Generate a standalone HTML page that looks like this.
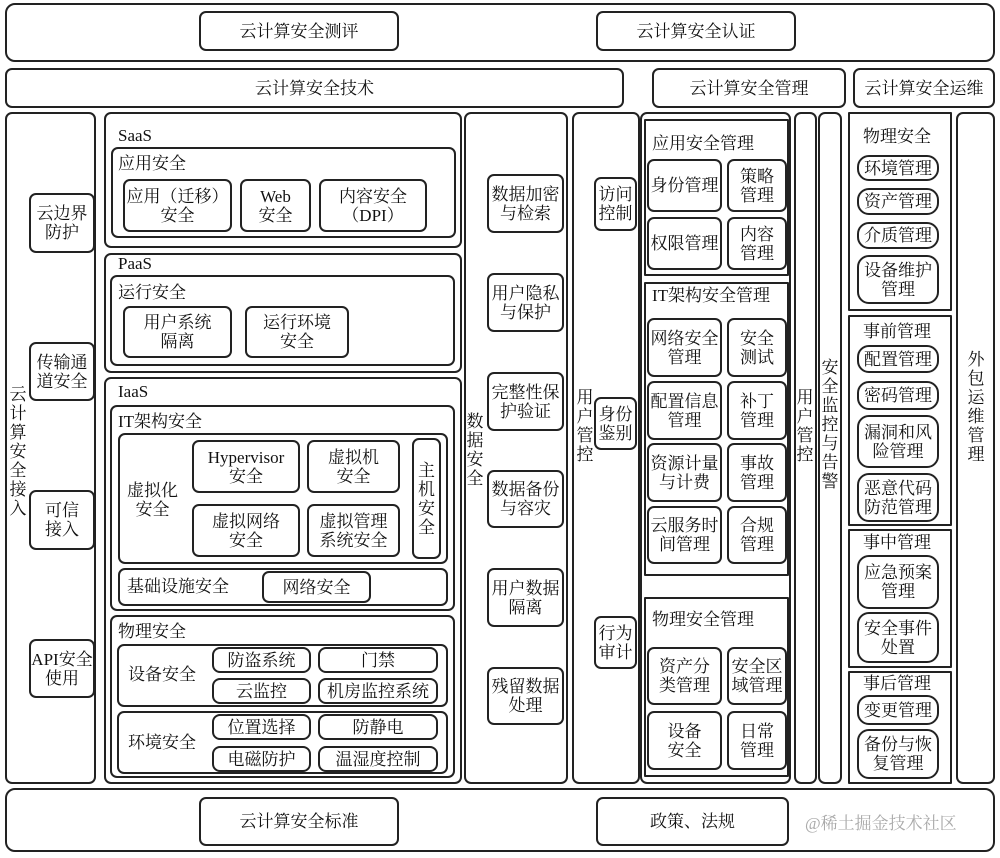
<!DOCTYPE html>
<html><head><meta charset="utf-8"><style>
body{margin:0;background:#fff;}
#c{position:relative;width:1000px;height:858px;overflow:hidden;font-family:"Liberation Serif","Noto Serif CJK SC",serif;color:#111;font-size:17px;line-height:19px;}
.b{position:absolute;box-sizing:border-box;border:2px solid #222;border-radius:7px;display:flex;align-items:center;justify-content:center;text-align:center;}
.s{border-radius:5px;}
.p{border-radius:12px;}
.q{border-radius:1px;}
.t{position:absolute;white-space:nowrap;}
.v{position:absolute;width:20px;text-align:center;line-height:19px;}
</style></head><body><div id="c">
<!-- top -->
<div class="b" style="left:5px;top:3px;width:990px;height:59px;border-radius:10px"></div>
<div class="b" style="left:199px;top:11px;width:200px;height:40px">云计算安全测评</div>
<div class="b" style="left:596px;top:11px;width:200px;height:40px">云计算安全认证</div>
<div class="b" style="left:5px;top:68px;width:619px;height:40px">云计算安全技术</div>
<div class="b" style="left:652px;top:68px;width:194px;height:40px">云计算安全管理</div>
<div class="b" style="left:853px;top:68px;width:142px;height:40px">云计算安全运维</div>

<!-- left access column -->
<div class="b" style="left:5px;top:112px;width:91px;height:672px"></div>
<div class="v" style="left:8px;top:385px">云<br>计<br>算<br>安<br>全<br>接<br>入</div>
<div class="b" style="left:29px;top:193px;width:66px;height:60px">云边界<br>防护</div>
<div class="b" style="left:29px;top:342px;width:66px;height:59px">传输通<br>道安全</div>
<div class="b" style="left:29px;top:490px;width:66px;height:60px">可信<br>接入</div>
<div class="b" style="left:29px;top:639px;width:66px;height:59px;white-space:nowrap">API安全<br>使用</div>

<!-- SaaS -->
<div class="b" style="left:104px;top:112px;width:358px;height:136px"></div>
<div class="t" style="left:118px;top:126px">SaaS</div>
<div class="b" style="left:111px;top:147px;width:345px;height:91px"></div>
<div class="t" style="left:118px;top:154px">应用安全</div>
<div class="b" style="left:123px;top:179px;width:109px;height:53px">应用（迁移）<br>安全</div>
<div class="b" style="left:240px;top:179px;width:71px;height:53px">Web<br>安全</div>
<div class="b" style="left:319px;top:179px;width:108px;height:53px">内容安全<br>（DPI）</div>
<!-- PaaS -->
<div class="b" style="left:104px;top:253px;width:358px;height:120px"></div>
<div class="t" style="left:118px;top:254px">PaaS</div>
<div class="b" style="left:110px;top:275px;width:345px;height:91px"></div>
<div class="t" style="left:118px;top:283px">运行安全</div>
<div class="b" style="left:123px;top:306px;width:109px;height:52px">用户系统<br>隔离</div>
<div class="b" style="left:245px;top:306px;width:104px;height:52px">运行环境<br>安全</div>
<!-- IaaS -->
<div class="b" style="left:104px;top:377px;width:358px;height:407px"></div>
<div class="t" style="left:118px;top:382px">IaaS</div>
<div class="b" style="left:110px;top:405px;width:345px;height:206px"></div>
<div class="t" style="left:118px;top:412px">IT架构安全</div>
<div class="b" style="left:118px;top:433px;width:330px;height:131px"></div>
<div class="t" style="left:127px;top:481px;text-align:center">虚拟化<br>安全</div>
<div class="b" style="left:192px;top:440px;width:108px;height:53px">Hypervisor<br>安全</div>
<div class="b" style="left:307px;top:440px;width:93px;height:53px">虚拟机<br>安全</div>
<div class="b" style="left:192px;top:504px;width:108px;height:53px">虚拟网络<br>安全</div>
<div class="b" style="left:307px;top:504px;width:93px;height:53px">虚拟管理<br>系统安全</div>
<div class="b" style="left:412px;top:438px;width:29px;height:121px">主<br>机<br>安<br>全</div>
<div class="b" style="left:118px;top:568px;width:330px;height:38px"></div>
<div class="t" style="left:127px;top:577px">基础设施安全</div>
<div class="b" style="left:262px;top:571px;width:109px;height:32px">网络安全</div>
<div class="b" style="left:110px;top:615px;width:345px;height:163px"></div>
<div class="t" style="left:118px;top:622px">物理安全</div>
<div class="b" style="left:117px;top:644px;width:331px;height:63px"></div>
<div class="t" style="left:128px;top:665px">设备安全</div>
<div class="b p" style="left:212px;top:647px;width:99px;height:26px;border-radius:8px">防盗系统</div>
<div class="b p" style="left:318px;top:647px;width:120px;height:26px;border-radius:8px">门禁</div>
<div class="b p" style="left:212px;top:678px;width:99px;height:26px;border-radius:8px">云监控</div>
<div class="b p" style="left:318px;top:678px;width:120px;height:26px;border-radius:8px">机房监控系统</div>
<div class="b" style="left:117px;top:711px;width:331px;height:63px"></div>
<div class="t" style="left:128px;top:733px">环境安全</div>
<div class="b p" style="left:212px;top:714px;width:99px;height:26px;border-radius:8px">位置选择</div>
<div class="b p" style="left:318px;top:714px;width:120px;height:26px;border-radius:8px">防静电</div>
<div class="b p" style="left:212px;top:746px;width:99px;height:26px;border-radius:8px">电磁防护</div>
<div class="b p" style="left:318px;top:746px;width:120px;height:26px;border-radius:8px">温湿度控制</div>

<!-- data security -->
<div class="b" style="left:464px;top:112px;width:104px;height:672px"></div>
<div class="v" style="left:465px;top:412px">数<br>据<br>安<br>全</div>
<div class="b" style="left:487px;top:174px;width:77px;height:59px">数据加密<br>与检索</div>
<div class="b" style="left:487px;top:273px;width:77px;height:59px">用户隐私<br>与保护</div>
<div class="b" style="left:487px;top:372px;width:77px;height:59px">完整性保<br>护验证</div>
<div class="b" style="left:487px;top:470px;width:77px;height:58px">数据备份<br>与容灾</div>
<div class="b" style="left:487px;top:568px;width:77px;height:59px">用户数据<br>隔离</div>
<div class="b" style="left:487px;top:667px;width:77px;height:58px">残留数据<br>处理</div>

<!-- user control -->
<div class="b" style="left:572px;top:112px;width:68px;height:672px"></div>
<div class="v" style="left:575px;top:388px">用<br>户<br>管<br>控</div>
<div class="b" style="left:594px;top:177px;width:43px;height:54px">访问<br>控制</div>
<div class="b" style="left:594px;top:397px;width:43px;height:53px">身份<br>鉴别</div>
<div class="b" style="left:594px;top:616px;width:43px;height:53px">行为<br>审计</div>

<!-- management -->
<div class="b" style="left:640px;top:112px;width:151px;height:672px"></div>
<div class="b q" style="left:644px;top:119px;width:145px;height:157px"></div>
<div class="t" style="left:652px;top:134px">应用安全管理</div>
<div class="b" style="left:647px;top:159px;width:75px;height:53px">身份管理</div>
<div class="b" style="left:727px;top:159px;width:60px;height:53px">策略<br>管理</div>
<div class="b" style="left:647px;top:217px;width:75px;height:53px">权限管理</div>
<div class="b" style="left:727px;top:217px;width:60px;height:53px">内容<br>管理</div>
<div class="b q" style="left:644px;top:282px;width:145px;height:294px"></div>
<div class="t" style="left:652px;top:286px">IT架构安全管理</div>
<div class="b" style="left:647px;top:318px;width:75px;height:59px">网络安全<br>管理</div>
<div class="b" style="left:727px;top:318px;width:60px;height:59px">安全<br>测试</div>
<div class="b" style="left:647px;top:381px;width:75px;height:59px">配置信息<br>管理</div>
<div class="b" style="left:727px;top:381px;width:60px;height:59px">补丁<br>管理</div>
<div class="b" style="left:647px;top:443px;width:75px;height:59px">资源计量<br>与计费</div>
<div class="b" style="left:727px;top:443px;width:60px;height:59px">事故<br>管理</div>
<div class="b" style="left:647px;top:506px;width:75px;height:58px">云服务时<br>间管理</div>
<div class="b" style="left:727px;top:506px;width:60px;height:58px">合规<br>管理</div>
<div class="b q" style="left:644px;top:597px;width:145px;height:180px"></div>
<div class="t" style="left:652px;top:610px">物理安全管理</div>
<div class="b" style="left:647px;top:647px;width:75px;height:58px">资产分<br>类管理</div>
<div class="b" style="left:727px;top:647px;width:60px;height:58px">安全区<br>域管理</div>
<div class="b" style="left:647px;top:711px;width:75px;height:59px">设备<br>安全</div>
<div class="b" style="left:727px;top:711px;width:60px;height:59px">日常<br>管理</div>

<div class="b" style="left:794px;top:112px;width:23px;height:672px"></div>
<div class="v" style="left:795px;top:388px">用<br>户<br>管<br>控</div>
<div class="b" style="left:818px;top:112px;width:24px;height:672px"></div>
<div class="v" style="left:820px;top:358px">安<br>全<br>监<br>控<br>与<br>告<br>警</div>

<!-- ops -->
<div class="b q" style="left:848px;top:112px;width:104px;height:199px"></div>
<div class="t" style="left:863px;top:127px">物理安全</div>
<div class="b p" style="left:857px;top:155px;width:82px;height:26px">环境管理</div>
<div class="b p" style="left:857px;top:188px;width:82px;height:27px">资产管理</div>
<div class="b p" style="left:857px;top:222px;width:82px;height:27px">介质管理</div>
<div class="b p" style="left:857px;top:255px;width:82px;height:49px">设备维护<br>管理</div>
<div class="b q" style="left:848px;top:315px;width:104px;height:211px"></div>
<div class="t" style="left:863px;top:322px">事前管理</div>
<div class="b p" style="left:857px;top:345px;width:82px;height:28px">配置管理</div>
<div class="b p" style="left:857px;top:381px;width:82px;height:29px">密码管理</div>
<div class="b p" style="left:857px;top:415px;width:82px;height:53px">漏洞和风<br>险管理</div>
<div class="b p" style="left:857px;top:473px;width:82px;height:49px">恶意代码<br>防范管理</div>
<div class="b q" style="left:848px;top:529px;width:104px;height:139px"></div>
<div class="t" style="left:863px;top:533px">事中管理</div>
<div class="b p" style="left:857px;top:555px;width:82px;height:54px">应急预案<br>管理</div>
<div class="b p" style="left:857px;top:612px;width:82px;height:51px">安全事件<br>处置</div>
<div class="b q" style="left:848px;top:671px;width:104px;height:113px"></div>
<div class="t" style="left:863px;top:674px">事后管理</div>
<div class="b p" style="left:857px;top:695px;width:82px;height:30px">变更管理</div>
<div class="b p" style="left:857px;top:729px;width:82px;height:50px">备份与恢<br>复管理</div>
<div class="b" style="left:956px;top:112px;width:39px;height:672px"></div>
<div class="v" style="left:966px;top:350px">外<br>包<br>运<br>维<br>管<br>理</div>

<!-- bottom -->
<div class="b" style="left:5px;top:788px;width:990px;height:64px;border-radius:10px"></div>
<div class="b" style="left:199px;top:797px;width:200px;height:49px">云计算安全标准</div>
<div class="b" style="left:596px;top:797px;width:193px;height:49px">政策、法规</div>
<div class="t" style="left:805px;top:814px;color:#aaa;font-size:17px">@稀土掘金技术社区</div>
</div></body></html>
